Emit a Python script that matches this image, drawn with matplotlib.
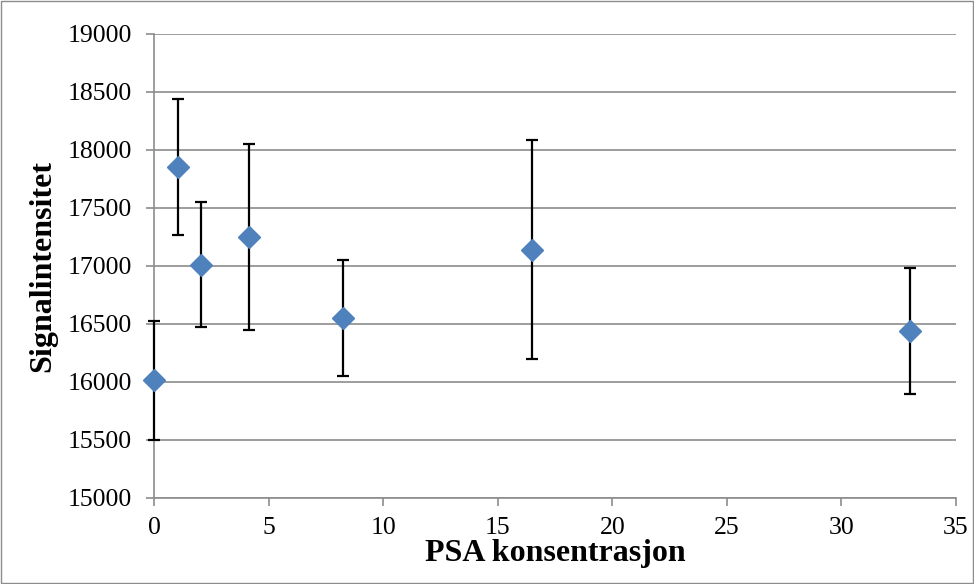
import numpy as np
import matplotlib.pyplot as plt
from matplotlib.patches import Rectangle

plt.rcParams['font.family'] = ['Liberation Serif', 'DejaVu Serif']

# PSA concentration and measured signal with standard deviation
konsentrasjon = [0, 1.03125, 2.0625, 4.125, 8.25, 16.5, 33]
signal = [16013, 17851, 17012, 17250, 16552, 17142, 16440]
stdavvik = [513, 586, 541, 805, 501, 945, 543]

y_ticks = [15000, 15500, 16000, 16500, 17000, 17500, 18000, 18500, 19000]
x_ticks = [0, 5, 10, 15, 20, 25, 30, 35]

fig = plt.figure(figsize=(9.74, 5.84), dpi=100)
ax = fig.add_axes([154/974, 1 - 498/584, (956-154)/974, (498-34)/584])

ax.errorbar(konsentrasjon, signal, yerr=stdavvik, fmt='D', color='#4F81BD',
            markersize=11, ecolor='black', elinewidth=1.6, capsize=4, capthick=1.6,
            zorder=3, clip_on=False)

ax.set_xlim(0, 35)
ax.set_ylim(15000, 19000)
ax.set_xticks(x_ticks)
ax.set_yticks(y_ticks)
ax.grid(axis='y', color='#8c8c8c', linewidth=1.2)
ax.set_axisbelow(True)

for s in ['top', 'right']:
    ax.spines[s].set_visible(False)
for s in ['left', 'bottom']:
    ax.spines[s].set_color('#8c8c8c')
    ax.spines[s].set_linewidth(1.2)
ax.tick_params(axis='both', colors='#8c8c8c', length=6, width=1.2, labelsize=18.5,
               labelcolor='black')
ax.tick_params(axis='y', pad=10)
ax.tick_params(axis='x', pad=8)

ax.set_xlabel('PSA konsentrasjon', fontsize=23, fontweight='bold', labelpad=0)
ax.set_ylabel('Signalintensitet', fontsize=23, fontweight='bold', labelpad=7)

fig.patches.append(Rectangle((1/974, 1/584), 972/974, 582/584, transform=fig.transFigure,
                             fill=False, edgecolor='#8c8c8c', linewidth=1))

fig.savefig('out.png', dpi=100)
